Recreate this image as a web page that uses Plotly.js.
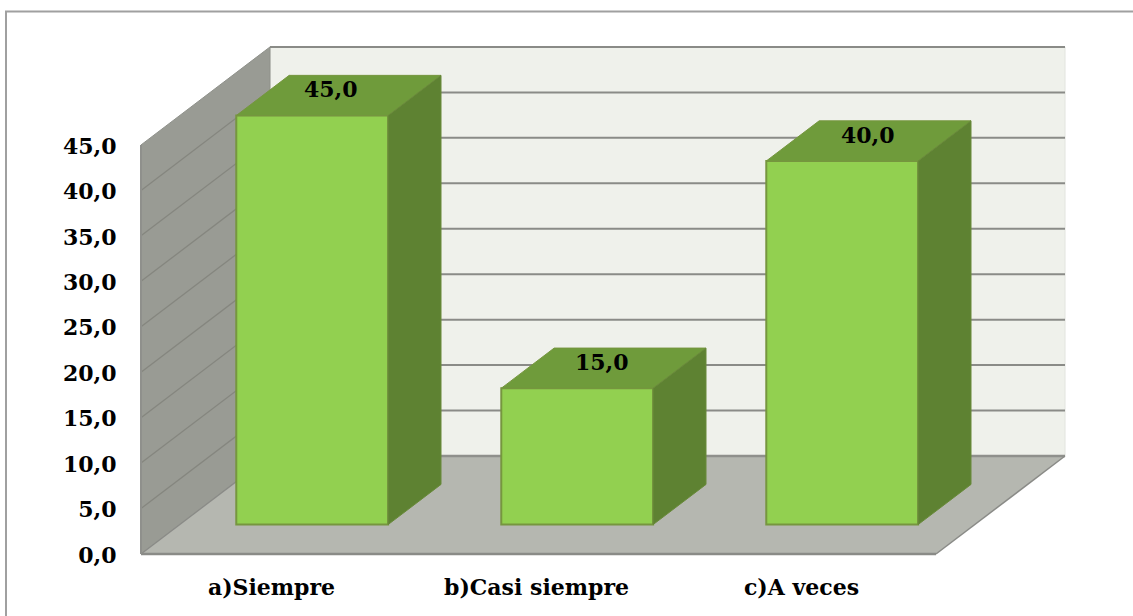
<!DOCTYPE html>
<html>
<head>
<meta charset="utf-8">
<script src="https://cdn.plot.ly/plotly-3.0.1.min.js"></script>
<style>html,body{margin:0;padding:0;background:#fff;overflow:hidden}#chart{width:1133px;height:616px}</style>
</head>
<body>
<div id="chart"></div>
<script>
const categories = ['a)Siempre', 'b)Casi siempre', 'c)A veces'];
const values = [45, 15, 40];
const yTicks = [0, 5, 10, 15, 20, 25, 30, 35, 40, 45];
const labelShift = [-8, -2, -1];

// Geometry of the 3-D box, in axis units
const W = 1133, H = 616;
const M = {l: 135, r: 66, t: 40, b: 53};
const pxPerCat = 265, pxPerVal = 9.09;
const DX = 129 / pxPerCat, DY = 98 / pxPerVal;
const xRange = [-6 / pxPerCat, (W - M.r - 141) / pxPerCat];
const yRange = [-9 / pxPerVal, (554 - M.t) / pxPerVal];
const barW = 0.573, gapZ = 0.30, depthZ = 0.41;
const yTop = yTicks[yTicks.length - 1];
const nCat = categories.length;

const ox = gapZ * DX, oy = gapZ * DY, bx = depthZ * DX, by = depthZ * DY;
const centers = categories.map((_, i) => i + 0.5);

const poly = (pts, fill, line, width) => ({
  type: 'path', xref: 'x', yref: 'y', layer: 'below',
  path: 'M' + pts.map(p => p[0] + ',' + p[1]).join('L') + 'Z',
  fillcolor: fill, line: {color: line, width: width}
});
const seg = (a, b, color, width) => ({
  type: 'line', xref: 'x', yref: 'y', layer: 'below',
  x0: a[0], y0: a[1], x1: b[0], y1: b[1], line: {color: color, width: width}
});

const shapes = [];
// back wall
shapes.push(poly([[DX, DY], [nCat + DX, DY], [nCat + DX, DY + yTop], [DX, DY + yTop]], '#eff1eb', '#e2e4de', 1));
// left wall
shapes.push(poly([[0, 0], [DX, DY], [DX, DY + yTop], [0, yTop]], '#999b94', '#8f918b', 1));
// floor
shapes.push(poly([[0, 0], [nCat, 0], [nCat + DX, DY], [DX, DY]], '#b5b7b0', '#b5b7b0', 0));
// gridlines
yTicks.forEach(v => {
  if (v > 0) {
    shapes.push(seg([DX, DY + v], [nCat + DX, DY + v], '#8a8b87', 2));
    if (v < yTop) shapes.push(seg([0, v], [DX, DY + v], '#85867f', 1.3));
  }
});
// floor edges
shapes.push(seg([DX, DY], [nCat + DX, DY], '#8f908c', 2.5));
shapes.push(seg([0, 0], [DX, DY], '#8a8b87', 1.3));
shapes.push(seg([nCat, 0], [nCat + DX, DY], '#8a8b87', 1.5));
shapes.push(seg([0, 0], [nCat, 0], '#8a8b87', 2.5));
shapes.push(seg([0, 0], [0, yTop], '#8f908c', 2));

// outer frame (left and top edges only), paper coordinates
const px = x => (x - M.l) / (W - M.l - M.r);
const py = y => (H - M.b - y) / (H - M.t - M.b);
shapes.push({
  type: 'path', xref: 'paper', yref: 'paper', layer: 'below',
  path: `M${px(6)},${py(616)}L${px(6)},${py(11.5)}L${px(1133)},${py(11.5)}`,
  line: {color: '#a0a0a0', width: 2}
});

const faceTrace = (xs, ys, fill, edge) => ({
  type: 'scatter', mode: 'lines', x: xs, y: ys, fill: 'toself',
  fillcolor: fill, line: {color: edge, width: 1}, hoverinfo: 'skip', showlegend: false
});

const traces = [{
  type: 'bar',
  x: centers.map(c => c + ox),
  y: values,
  base: values.map(() => oy),
  width: barW,
  marker: {color: '#92d050', line: {color: '#76963f', width: 2}},
  hoverinfo: 'skip', showlegend: false
}];

values.forEach((v, i) => {
  const x0 = centers[i] + ox - barW / 2, x1 = x0 + barW;
  const y0 = oy, y1 = oy + v;
  traces.push(faceTrace(
    [x0, x1, x1 + bx, x0 + bx, x0],
    [y1, y1, y1 + by, y1 + by, y1], '#6f9b3b', '#76963f'));
  traces.push(faceTrace(
    [x1, x1 + bx, x1 + bx, x1, x1],
    [y0, y0 + by, y1 + by, y1, y0], '#5e8232', '#698a3a'));
});

const fontFam = '"DejaVu Serif", serif';
const labelFont = {family: fontFam, size: 22, color: '#000', weight: 700};
const annotations = values.map((v, i) => ({
  x: centers[i] + ox + bx / 2,
  y: oy + v + by / 2,
  xref: 'x', yref: 'y',
  text: v.toFixed(1).replace('.', ','),
  showarrow: false,
  xshift: labelShift[i],
  yshift: 6,
  font: labelFont
}));

const layout = {
  width: W, height: H,
  margin: {l: M.l, r: M.r, t: M.t, b: M.b, pad: 0},
  paper_bgcolor: '#fff', plot_bgcolor: 'rgba(0,0,0,0)',
  separators: ',.',
  showlegend: false,
  barmode: 'overlay',
  shapes: shapes,
  annotations: annotations,
  xaxis: {
    range: xRange, showgrid: false, zeroline: false, showline: false,
    tickmode: 'array', tickvals: centers, ticktext: categories,
    ticks: 'outside', ticklen: 5, tickcolor: 'rgba(0,0,0,0)',
    ticklabelshift: -2,
    tickfont: labelFont
  },
  yaxis: {
    range: yRange, showgrid: false, zeroline: false, showline: false,
    tickmode: 'array', tickvals: yTicks, tickformat: '.1f',
    ticks: 'outside', ticklen: 13, tickcolor: 'rgba(0,0,0,0)',
    ticklabelshift: 1,
    tickfont: labelFont
  }
};

Plotly.newPlot('chart', traces, layout, {displayModeBar: false, staticPlot: true});
</script>
</body>
</html>
